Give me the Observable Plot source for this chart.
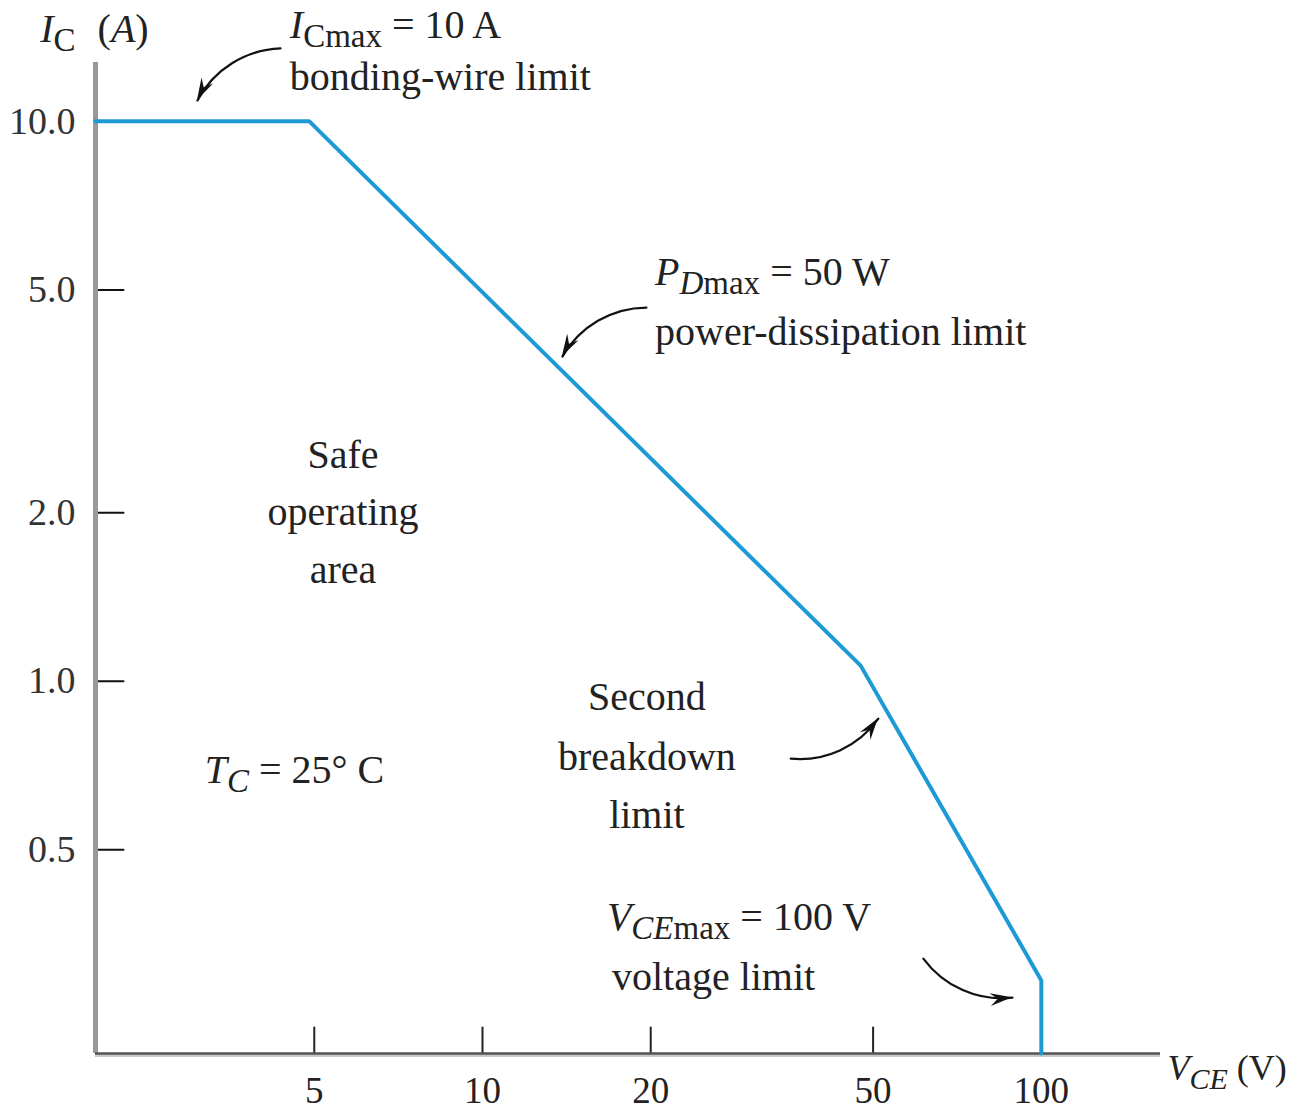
<!DOCTYPE html>
<html><head><meta charset="utf-8">
<script src="https://cdn.jsdelivr.net/npm/d3@7"></script>
<script src="https://cdn.jsdelivr.net/npm/@observablehq/plot@0.6"></script>
<style>
body{margin:0;background:#fff}
svg{font-family:"Liberation Serif", "DejaVu Serif", serif}
</style>
</head><body><div id="chart"></div>
<script>
// Safe-operating-area boundary (V_CE in volts, I_C in amperes)
const vce = [2.03, 4.9, 47.5, 100, 100];
const ic  = [10, 10, 1.066, 0.292, 0.2162];
const xTicks = [5, 10, 20, 50, 100];
const xTickLabels = ["5", "10", "20", "50", "100"];
const yTicks = [10, 5, 2, 1, 0.5];
const yTickLabels = ["10.0", "5.0", "2.0", "1.0", "0.5"];
const xDomain = [2.03, 163.4];
const yDomain = [0.2162, 12.74];

// Annotation arrows (data coordinates)
const arrowX1 = [4.35, 19.65, 35.6, 61.5];
const arrowY1 = [13.5, 4.65, 0.727, 0.3195];
const arrowX2 = [3.09, 13.9, 51.1, 88.8];
const arrowY2 = [10.9, 3.80, 0.857, 0.272];
const arrowBend = -30;

// Annotation texts: [text, style] with style i = italic, sub = subscript
const annotations = [
  {x: 1.62, y: 13.83, anchor: "start", parts: [["I","i"],["C","sub"],[" (","gap"],["A","i"],[")",""]]},
  {x: 4.53, y: 14.05, anchor: "start", parts: [["I","i"],["Cmax","sub"],[" = 10 A",""]]},
  {x: 4.53, y: 11.35, anchor: "start", parts: [["bonding-wire limit",""]]},
  {x: 20.4, y: 5.09, anchor: "start", parts: [["P","i"],["D","subi"],["max","sub"],[" = 50 W",""]]},
  {x: 20.4, y: 3.98, anchor: "start", parts: [["power-dissipation limit",""]]},
  {x: 5.64, y: 2.40, anchor: "middle", parts: [["Safe",""]]},
  {x: 5.64, y: 1.90, anchor: "middle", parts: [["operating",""]]},
  {x: 5.64, y: 1.494, anchor: "middle", parts: [["area",""]]},
  {x: 3.19, y: 0.656, anchor: "start", parts: [["T","i"],["C","subi"],[" = 25° C",""]]},
  {x: 19.73, y: 0.886, anchor: "middle", parts: [["Second",""]]},
  {x: 19.73, y: 0.692, anchor: "middle", parts: [["breakdown",""]]},
  {x: 19.73, y: 0.545, anchor: "middle", parts: [["limit",""]]},
  {x: 16.73, y: 0.3584, anchor: "start", parts: [["V","i"],["CE","subi"],["max","sub"],[" = 100 V",""]]},
  {x: 17.08, y: 0.280, anchor: "start", parts: [["voltage limit",""]]},
  {x: 168.5, y: 0.1934, anchor: "start", size: 36, parts: [["V","i"],["CE","subi"],[" (V)",""]]}
];

const soa = vce.map((v, i) => ({vce: v, ic: ic[i]}));
const arrows = arrowX1.map((x, i) => ({x1: x, y1: arrowY1[i], x2: arrowX2[i], y2: arrowY2[i]}));
const lineShape = {draw(context, l) { context.moveTo(0, 0); context.lineTo(0, -l); }};

const plot = Plot.plot({
  width: 1303,
  height: 1111,
  marginLeft: 95,
  marginRight: 143,
  marginTop: 62,
  marginBottom: 58,
  style: {fontFamily: '"Liberation Serif", serif', background: "#fff", overflow: "visible"},
  x: {type: "log", domain: xDomain},
  y: {type: "log", domain: yDomain},
  marks: [
    Plot.axisX(xTicks, {tickSize: 0, tickPadding: 23, fontSize: 37, fill: "#222",
      tickFormat: (d) => xTickLabels[xTicks.indexOf(d)], label: null}),
    Plot.axisY(yTicks, {tickSize: 0, tickPadding: 20, fontSize: 38, fill: "#333",
      tickFormat: (d) => yTickLabels[yTicks.indexOf(d)], label: null}),
    Plot.vector(xTicks, {x: (d) => d, frameAnchor: "bottom", length: 26, rotate: 0, anchor: "start",
      shape: lineShape, stroke: "#222", strokeWidth: 2}),
    Plot.vector(yTicks, {y: (d) => d, frameAnchor: "left", length: 28, rotate: 90, anchor: "start",
      shape: lineShape, stroke: "#111", strokeWidth: 2}),
    Plot.ruleX([xDomain[0]], {stroke: "#999", strokeWidth: 5}),
    Plot.ruleY([yDomain[0]], {stroke: "#c8c8c8", strokeWidth: 3, dy: 2}),
    Plot.ruleY([yDomain[0]], {stroke: "#555", strokeWidth: 2.5}),
    Plot.line(soa, {x: "vce", y: "ic", stroke: "#1d9ad6", strokeWidth: 4, strokeLinejoin: "miter"}),
    Plot.arrow(arrows, {x1: "x1", y1: "y1", x2: "x2", y2: "y2", bend: arrowBend, headLength: 0,
      stroke: "#111", strokeWidth: 2.2})
  ]
});

const sx = plot.scale("x"), sy = plot.scale("y");
const svg = d3.select(plot);

// filled arrowheads at arrow ends, oriented along the end tangent of the arc
const heads = svg.append("g").attr("fill", "#111");
for (const a of arrows) {
  const x1 = sx.apply(a.x1), y1 = sy.apply(a.y1), x2 = sx.apply(a.x2), y2 = sy.apply(a.y2);
  const ang = Math.atan2(y2 - y1, x2 - x1) + arrowBend * Math.PI / 180;
  const L = 22, W = 6.5;
  const bx = x2 - L * Math.cos(ang), by = y2 - L * Math.sin(ang);
  const nx = -Math.sin(ang), ny = Math.cos(ang);
  heads.append("path").attr("d",
    `M${x2},${y2}L${bx + W * nx},${by + W * ny}L${bx + 0.35 * L * Math.cos(ang)},${by + 0.35 * L * Math.sin(ang)}L${bx - W * nx},${by - W * ny}Z`);
}

const g = svg.append("g")
  .attr("font-family", '"Liberation Serif", serif')
  .attr("fill", "#222");
for (const a of annotations) {
  const size = a.size || 40;
  const t = g.append("text")
    .attr("x", sx.apply(a.x))
    .attr("y", sy.apply(a.y))
    .attr("font-size", size)
    .attr("text-anchor", a.anchor);
  let inSub = false;
  for (const [s, st] of a.parts) {
    const sub = st.startsWith("sub");
    const ts = t.append("tspan").text(s);
    if (st === "i" || st === "subi") ts.attr("font-style", "italic");
    if (sub) ts.attr("font-size", Math.round(size * 0.82));
    if (st === "gap") ts.attr("dx", 12);
    if (sub && !inSub) ts.attr("dy", 9);
    if (!sub && inSub) ts.attr("dy", -9);
    inSub = sub;
  }
}
document.getElementById("chart").append(plot);
</script>
</body></html>
